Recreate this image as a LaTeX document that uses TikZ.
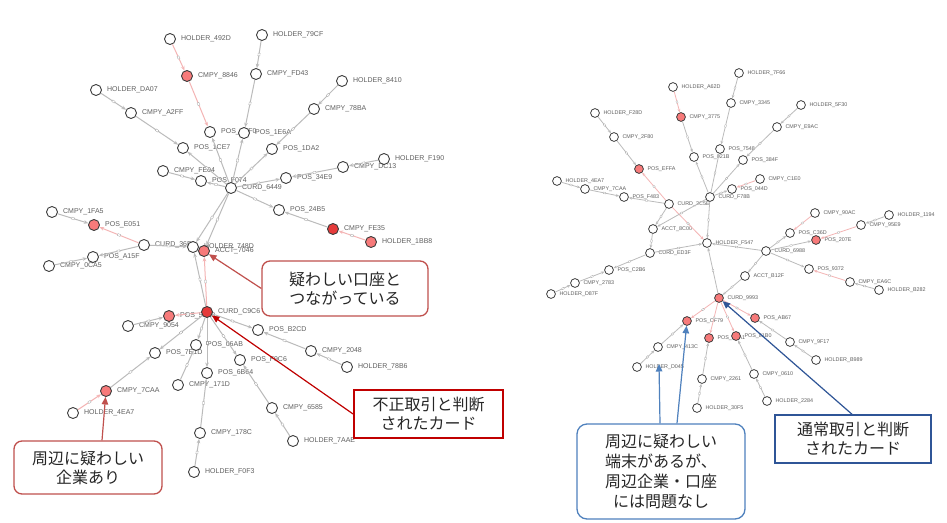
\documentclass[tikz,border=0pt]{standalone}
\usepackage{fontspec}
\newfontfamily\lblfont{Liberation Sans}
\newfontfamily\jpfont{Noto Sans CJK JP}
\usetikzlibrary{arrows.meta}
\pgfdeclarelayer{back}\pgfdeclarelayer{lab}\pgfdeclarelayer{edg}\pgfdeclarelayer{top}
\pgfsetlayers{back,lab,edg,main,top}
\definecolor{nodeb}{HTML}{3C3C3C}
\definecolor{lblc}{HTML}{606060}
\definecolor{redn}{HTML}{F77A7A}
\definecolor{darkn}{HTML}{E53B3B}
\definecolor{gedgec}{HTML}{BBBBBB}
\definecolor{pedgec}{HTML}{F4B4B4}
\definecolor{calred}{HTML}{C0504D}
\definecolor{deepred}{HTML}{C00000}
\definecolor{calblue}{HTML}{4F81BD}
\definecolor{deepblue}{HTML}{2F5597}
\tikzset{
 vtxL/.style={circle, draw=nodeb, line width=0.9pt, minimum size=11pt, inner sep=0pt},
 vtxR/.style={circle, draw=nodeb, line width=0.8pt, minimum size=8.8pt, inner sep=0pt},
 lblL/.style={font=\lblfont\fontsize{7}{8}\selectfont, text=lblc, inner sep=0pt, anchor=west, xshift=5pt},
 lblR/.style={font=\lblfont\fontsize{5.4}{6}\selectfont, text=lblc, inner sep=0pt, anchor=west, xshift=3.5pt},
 mkL/.style={midway, sloped, fill=white, draw=gray!70, line width=0.3pt, inner sep=0pt, minimum width=2.8pt, minimum height=2pt},
 mkR/.style={midway, sloped, fill=white, draw=gray!70, line width=0.25pt, inner sep=0pt, minimum width=2.2pt, minimum height=1.6pt},
 gL/.style={draw=gedgec, line width=1pt, -{Stealth[length=4.5pt,width=3.6pt]}},
 pL/.style={draw=pedgec, line width=1pt, -{Stealth[length=4.5pt,width=3.6pt]}},
 gR/.style={draw=gedgec, line width=0.8pt, -{Stealth[length=3.5pt,width=2.8pt]}},
 pR/.style={draw=pedgec, line width=0.8pt, -{Stealth[length=3.5pt,width=2.8pt]}},
 jp/.style={font=\jpfont\fontsize{16}{19}\selectfont, align=center, text=black!85, inner sep=0pt, fill=white},
 callred/.style={jp, draw=calred, line width=1.3pt, rounded corners=8pt},
 sqred/.style={jp, draw=deepred, line width=1.8pt},
 callblue/.style={jp, draw=calblue, line width=1.3pt, rounded corners=10pt, font=\jpfont\fontsize{16}{20}\selectfont},
 sqblue/.style={jp, draw=deepblue, line width=1.5pt},
 arrtip/.style={-{Triangle[length=7.5pt,width=6.5pt]}, line width=1.2pt},
}
\newcommand\gn[6]{\node[vtx#1,fill=#6] (#2) at (#3,#4) {};
 \begin{pgfonlayer}{lab}\node[lbl#1] (#2t) at (#2.east) {#5};\end{pgfonlayer}}
\newcommand\edL[3]{\draw[#1] (#2) -- (#3) node[mkL]{};}
\newcommand\edR[3]{\draw[#1] (#2) -- (#3) node[mkR]{};}
\begin{document}
\begin{tikzpicture}[x=1pt,y=-1pt]
\useasboundingbox (0,0) rectangle (947,522);
\begin{pgfonlayer}{back}
\fill[white] (0,0) rectangle (947,522);
\end{pgfonlayer}
% ---------------- left graph ----------------
\gn{L}{l492D}{170}{39}{HOLDER\_492D}{white}
\gn{L}{l79CF}{262}{35}{HOLDER\_79CF}{white}
\gn{L}{l8846}{187}{76}{CMPY\_8846}{redn}
\gn{L}{lFD43}{256}{74}{CMPY\_FD43}{white}
\gn{L}{l8410}{342}{81}{HOLDER\_8410}{white}
\gn{L}{lDA07}{96}{90}{HOLDER\_DA07}{white}
\gn{L}{lA2FF}{131}{113}{CMPY\_A2FF}{white}
\gn{L}{l78BA}{314}{109}{CMPY\_78BA}{white}
\gn{L}{lPx}{210}{132}{POS\_A4F0}{white}
\gn{L}{lP1E6A}{244}{133}{POS\_1E6A}{white}
\gn{L}{lP1CE7}{183}{148}{POS\_1CE7}{white}
\gn{L}{lP1DA2}{272}{149}{POS\_1DA2}{white}
\gn{L}{lF190}{384}{159}{HOLDER\_F190}{white}
\gn{L}{lDC13}{343}{167}{CMPY\_DC13}{white}
\gn{L}{lFE04}{163}{171}{CMPY\_FE04}{white}
\gn{L}{lPF074}{201}{181}{POS\_F074}{white}
\gn{L}{lP34E9}{286}{178}{POS\_34E9}{white}
\gn{L}{lC6449}{231}{188}{CURD\_6449}{white}
\gn{L}{lP24B5}{279}{210}{POS\_24B5}{white}
\gn{L}{l1FA5}{52}{212}{CMPY\_1FA5}{white}
\gn{L}{lPE051}{94}{225}{POS\_E051}{redn}
\gn{L}{lFE35}{333}{229}{CMPY\_FE35}{darkn}
\gn{L}{l1BB8}{371}{242}{HOLDER\_1BB8}{redn}
\gn{L}{lC36}{144}{245}{CURD\_36E1}{white}
\gn{L}{lH748D}{193}{247}{HOLDER\_748D}{white}
\gn{L}{lA7046}{204}{251}{ACCT\_7046}{redn}
\gn{L}{lPA15F}{93}{257}{POS\_A15F}{white}
\gn{L}{l0CA5}{49}{266}{CMPY\_0CA5}{white}
\gn{L}{lC9C6}{207}{312}{CURD\_C9C6}{darkn}
\gn{L}{lP9x}{169}{316}{POS\_51A9}{redn}
\gn{L}{l9054}{128}{326}{CMPY\_9054}{white}
\gn{L}{lPB2CD}{258}{330}{POS\_B2CD}{white}
\gn{L}{lP06AB}{196}{345}{POS\_06AB}{white}
\gn{L}{lP7x1D}{155}{353}{POS\_7E1D}{white}
\gn{L}{l2048}{311}{351}{CMPY\_2048}{white}
\gn{L}{lPFC6}{240}{360}{POS\_F9C6}{white}
\gn{L}{l78B6}{347}{367}{HOLDER\_78B6}{white}
\gn{L}{lP6B64}{207}{373}{POS\_6B64}{white}
\gn{L}{l171D}{178}{385}{CMPY\_171D}{white}
\gn{L}{l7CAA}{106}{391}{CMPY\_7CAA}{redn}
\gn{L}{l4EA7}{73}{413}{HOLDER\_4EA7}{white}
\gn{L}{l6585}{272}{408}{CMPY\_6585}{white}
\gn{L}{l178C}{200}{433}{CMPY\_178C}{white}
\gn{L}{l7AAE}{293}{441}{HOLDER\_7AAE}{white}
\gn{L}{lF0F3}{194}{472}{HOLDER\_F0F3}{white}
% ---------------- right graph ----------------
\gn{R}{r7F66}{739}{73}{HOLDER\_7F66}{white}
\gn{R}{rA62D}{673}{87}{HOLDER\_A62D}{white}
\gn{R}{r3345}{731}{103}{CMPY\_3345}{white}
\gn{R}{r5F30}{801}{105}{HOLDER\_5F30}{white}
\gn{R}{rF28D}{595}{113}{HOLDER\_F28D}{white}
\gn{R}{r3775}{681}{117}{CMPY\_3775}{redn}
\gn{R}{rE9AC}{777}{127}{CMPY\_E9AC}{white}
\gn{R}{r2F80}{614}{137}{CMPY\_2F80}{white}
\gn{R}{rP7548}{720}{149}{POS\_7548}{white}
\gn{R}{rP021B}{694}{157}{POS\_021B}{white}
\gn{R}{rP384F}{743}{160}{POS\_384F}{white}
\gn{R}{rPEFFA}{639}{169}{POS\_EFFA}{redn}
\gn{R}{rC1E0}{760}{179}{CMPY\_C1E0}{white}
\gn{R}{r4EA7}{557}{181}{HOLDER\_4EA7}{white}
\gn{R}{r7CAA}{585}{189}{CMPY\_7CAA}{white}
\gn{R}{rP044D}{732}{189}{POS\_044D}{white}
\gn{R}{rPF483}{624}{197}{POS\_F483}{white}
\gn{R}{rCF78B}{710}{197}{CURD\_F78B}{white}
\gn{R}{rC2C5E}{669}{204}{CURD\_2C5E}{white}
\gn{R}{r90AC}{815}{213}{CMPY\_90AC}{white}
\gn{R}{r1194}{889}{215}{HOLDER\_1194}{white}
\gn{R}{r95E9}{861}{225}{CMPY\_95E9}{white}
\gn{R}{rA8C00}{653}{229}{ACCT\_8C00}{white}
\gn{R}{rPC36D}{790}{233}{POS\_C36D}{white}
\gn{R}{rP207E}{816}{240}{POS\_207E}{redn}
\gn{R}{rHF547}{707}{243}{HOLDER\_F547}{white}
\gn{R}{rC6988}{766}{251}{CURD\_6988}{white}
\gn{R}{rCED3F}{650}{253}{CURD\_ED3F}{white}
\gn{R}{rP9372}{809}{269}{POS\_9372}{white}
\gn{R}{rPC2B6}{609}{270}{POS\_C2B6}{white}
\gn{R}{rAB12F}{745}{276}{ACCT\_B12F}{white}
\gn{R}{rEA6C}{850}{282}{CMPY\_EA6C}{white}
\gn{R}{r2783}{575}{283}{CMPY\_2783}{white}
\gn{R}{rB282}{879}{290}{HOLDER\_B282}{white}
\gn{R}{rD87F}{551}{294}{HOLDER\_D87F}{white}
\gn{R}{rC9993}{719}{298}{CURD\_9993}{redn}
\gn{R}{rPAB67}{755}{318}{POS\_AB67}{redn}
\gn{R}{rPCF79}{687}{321}{POS\_CF79}{redn}
\gn{R}{rPx}{709}{338}{POS\_E4A1}{redn}
\gn{R}{rP81}{736}{336}{POS\_81B0}{redn}
\gn{R}{r9F17}{790}{342}{CMPY\_9F17}{white}
\gn{R}{r413C}{658}{347}{CMPY\_413C}{white}
\gn{R}{rD045}{637}{367}{HOLDER\_D045}{white}
\gn{R}{rB989}{816}{360}{HOLDER\_B989}{white}
\gn{R}{r2261}{702}{379}{CMPY\_2261}{white}
\gn{R}{r0610}{754}{374}{CMPY\_0610}{white}
\gn{R}{r2284}{767}{401}{HOLDER\_2284}{white}
\gn{R}{r30F5}{697}{408}{HOLDER\_30F5}{white}
% ---------------- edges ----------------
\begin{pgfonlayer}{edg}
\edL{pL}{l492D}{l8846}
\edL{pL}{l8846}{lPx}
\edL{gL}{l79CF}{lFD43}
\edL{gL}{lFD43}{lP1E6A}
\edL{gL}{lC6449}{lP1E6A}
\edL{gL}{lC6449}{lPx}
\edL{gL}{lC6449}{lP1CE7}
\edL{gL}{lC6449}{lP1DA2}
\edL{gL}{l8410}{l78BA}
\edL{gL}{l78BA}{lP1DA2}
\edL{gL}{lDA07}{lA2FF}
\edL{gL}{lA2FF}{lP1CE7}
\edL{gL}{lF190}{lDC13}
\edL{gL}{lDC13}{lP34E9}
\edL{gL}{lFE04}{lPF074}
\edL{gL}{lC6449}{lPF074}
\edL{gL}{lC6449}{lP34E9}
\edL{gL}{lC6449}{lP24B5}
\edL{gL}{lFE35}{lP24B5}
\edL{pL}{l1BB8}{lFE35}
\edL{gL}{lC6449}{lH748D}
\edL{gL}{lC6449}{lA7046}
\edL{gL}{lC36}{lH748D}
\edL{gL}{l1FA5}{lPE051}
\edL{pL}{lC36}{lPE051}
\edL{gL}{lC36}{lPA15F}
\edL{gL}{l0CA5}{lPA15F}
\edL{gL}{lC9C6}{lH748D}
\edL{pL}{lC9C6}{lA7046}
\edL{pL}{lC9C6}{lP9x}
\edL{gL}{l9054}{lP9x}
\edL{gL}{lC9C6}{lPB2CD}
\edL{gL}{l2048}{lPB2CD}
\edL{gL}{l78B6}{l2048}
\edL{gL}{lC9C6}{lP06AB}
\edL{gL}{lC9C6}{lP7x1D}
\edL{gL}{lC9C6}{lP6B64}
\edL{gL}{lC9C6}{lPFC6}
\edL{gL}{l7CAA}{lP7x1D}
\edL{pL}{l4EA7}{l7CAA}
\edL{gL}{l171D}{lP06AB}
\edL{gL}{l178C}{lP6B64}
\edL{gL}{lF0F3}{l178C}
\edL{gL}{l6585}{lPFC6}
\edL{gL}{l7AAE}{l6585}
% right
\edR{gR}{r7F66}{r3345}
\edR{gR}{r3345}{rP7548}
\edR{gR}{rCF78B}{rP7548}
\edR{pR}{rA62D}{r3775}
\edR{gR}{r3775}{rP021B}
\edR{gR}{rCF78B}{rP021B}
\edR{gR}{r5F30}{rE9AC}
\edR{gR}{rE9AC}{rP384F}
\edR{gR}{rCF78B}{rP384F}
\edR{gR}{rF28D}{r2F80}
\edR{gR}{r2F80}{rPEFFA}
\edR{pR}{rC2C5E}{rPEFFA}
\edR{pR}{rC2C5E}{rHF547}
\edR{gR}{r4EA7}{r7CAA}
\edR{gR}{r7CAA}{rPF483}
\edR{gR}{rC2C5E}{rPF483}
\edR{pR}{rC1E0}{rP044D}
\edR{gR}{rCF78B}{rP044D}
\edR{gR}{rC2C5E}{rA8C00}
\edR{gR}{rCF78B}{rA8C00}
\edR{gR}{rCF78B}{rHF547}
\edR{gR}{rA8C00}{rCED3F}
\edR{gR}{rCED3F}{rHF547}
\edR{gR}{rCED3F}{rPC2B6}
\edR{gR}{r2783}{rPC2B6}
\edR{gR}{rD87F}{r2783}
\edR{gR}{rC6988}{rHF547}
\edR{gR}{rC9993}{rHF547}
\edR{gR}{rC6988}{rPC36D}
\edR{pR}{r90AC}{rPC36D}
\edR{gR}{rC6988}{rP207E}
\edR{pR}{r95E9}{rP207E}
\edR{gR}{r1194}{r95E9}
\edR{gR}{rC6988}{rP9372}
\edR{pR}{rEA6C}{rP9372}
\edR{gR}{rB282}{rEA6C}
\edR{gR}{rC6988}{rAB12F}
\edR{gR}{rAB12F}{rC9993}
\edR{pR}{rC9993}{rPCF79}
\edR{pR}{rC9993}{rPAB67}
\edR{pR}{rC9993}{rPx}
\edR{pR}{rC9993}{rP81}
\edR{gR}{r413C}{rPCF79}
\edR{gR}{rD045}{r413C}
\edR{gR}{r9F17}{rPAB67}
\edR{gR}{rB989}{r9F17}
\edR{gR}{r2261}{rPx}
\edR{gR}{r30F5}{r2261}
\edR{gR}{r0610}{rP81}
\edR{gR}{r2284}{r0610}
\end{pgfonlayer}
% ---------------- callouts ----------------
\begin{pgfonlayer}{top}
\node[callred, minimum width=166pt, minimum height=55pt] (boxA) at (345,288.5) {疑わしい口座と\\つながっている};
\node[sqred, minimum width=149pt, minimum height=48pt] (boxB) at (428.5,414) {不正取引と判断\\されたカード};
\node[callred, minimum width=148pt, minimum height=53pt] (boxC) at (88,467.5) {周辺に疑わしい\\企業あり};
\node[callblue, minimum width=168pt, minimum height=95pt] (boxD) at (661,471.5) {周辺に疑わしい\\端末があるが、\\周辺企業・口座\\には問題なし};
\node[sqblue, minimum width=156pt, minimum height=48pt] (boxE) at (853,439) {通常取引と判断\\されたカード};
\coordinate (tipD1) at (659,364);
\draw[arrtip, calred] (boxA.west) -- (lA7046);
\draw[arrtip, deepred] (boxB.west) -- (lC9C6);
\draw[arrtip, calred] ([xshift=14pt]boxC.north) -- (l7CAA);
\draw[arrtip, calblue] ([xshift=-1pt]boxD.north) -- (tipD1);
\draw[arrtip, calblue] ([xshift=16pt]boxD.north) -- (rPCF79);
\draw[arrtip, deepblue] ([xshift=-1pt]boxE.north) -- (rC9993);
\end{pgfonlayer}
\end{tikzpicture}
\end{document}
